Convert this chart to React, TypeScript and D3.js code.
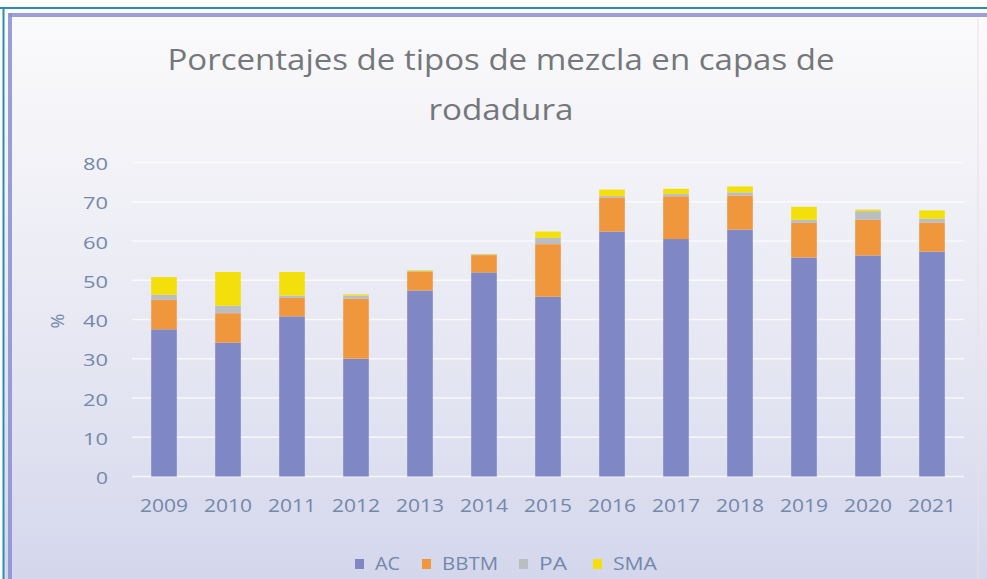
import React from "react";
import * as d3 from "d3";

const years = ["2009","2010","2011","2012","2013","2014","2015","2016","2017","2018","2019","2020","2021"];
const seriesNames = ["AC", "BBTM", "PA", "SMA"];
const acValues = [37.5, 34.1, 40.8, 30.0, 47.4, 52.0, 45.8, 62.4, 60.5, 62.9, 55.8, 56.3, 57.3];
const bbtmValues = [7.5, 7.5, 4.7, 15.3, 4.8, 4.4, 13.4, 8.7, 10.9, 8.7, 8.8, 9.1, 7.4];
const paValues = [1.3, 1.9, 0.6, 0.8, 0.2, 0.2, 1.6, 0.4, 0.6, 0.8, 0.8, 2.2, 1.0];
const smaValues = [4.5, 8.6, 6.0, 0.3, 0.2, 0.1, 1.6, 1.6, 1.3, 1.5, 3.3, 0.4, 2.1];
const yTicks = [0, 10, 20, 30, 40, 50, 60, 70, 80];
const colors = ["#7f87c5", "#f0973e", "#babdc1", "#f3df0a"];
const titleLines = ["Porcentajes de tipos de mezcla en capas de", "rodadura"];

const W = 987, H = 579;
const M = { left: 132, right: 964, top: 162.5, bottom: 476.5 };

export default function App() {
  const rows = years.map((y, i) => ({
    year: y, AC: acValues[i], BBTM: bbtmValues[i], PA: paValues[i], SMA: smaValues[i],
  }));
  const stack = d3.stack<any>().keys(seriesNames)(rows);
  const x = d3.scaleBand().domain(years).range([M.left, M.right]).paddingInner(0.6).paddingOuter(0.3);
  const y = d3.scaleLinear().domain([0, 80]).range([M.bottom, M.top]);
  const font = "'Open Sans', sans-serif";
  const tickColor = "#7388aa";
  const legendX = [355, 422, 519, 593];
  const legendW = [25, 56, 28, 44];
  const titleW = [667, 145];

  return (
    <svg width={W} height={H} style={{ position: "absolute", left: 0, top: 0, display: "block" }}>
      <defs>
        <linearGradient id="bg" x1="0" y1="0" x2="0" y2="1">
          <stop offset="0" stopColor="#fbfbfc" />
          <stop offset="0.3" stopColor="#f1f1f7" />
          <stop offset="0.7" stopColor="#e2e3f1" />
          <stop offset="1" stopColor="#d3d6ec" />
        </linearGradient>
      </defs>
      <rect x={0} y={0} width={W} height={H} fill="#ffffff" />
      <rect x={4} y={9} width={W} height={H} fill="url(#bg)" />
      <line x1={0} x2={W} y1={8} y2={8} stroke="#2a8fae" strokeWidth={2} />
      <line x1={3.5} x2={3.5} y1={8} y2={H} stroke="#2a8fae" strokeWidth={2} />
      <line x1={9} x2={W} y1={15} y2={15} stroke="#8b8fcf" strokeWidth={4} opacity={0.85} />
      <line x1={10} x2={10} y1={13} y2={H} stroke="#8b8fcf" strokeWidth={4} opacity={0.85} />
      <line x1={978} x2={978} y1={18} y2={H} stroke="#f2dde6" strokeWidth={1} />

      {titleLines.map((t, i) => (
        <text key={i} x={501 - titleW[i] / 2} y={i === 0 ? 70 : 120} textLength={titleW[i]} lengthAdjust="spacingAndGlyphs"
          fontFamily={font} fontSize={29.5} fill="#74777b">
          {t}
        </text>
      ))}

      {yTicks.map((t) => (
        <g key={t}>
          <line x1={M.left} x2={M.right} y1={y(t)} y2={y(t)} stroke="#ffffff" strokeWidth={1.5} opacity={0.75} />
          <text x={108 - (t === 0 ? 12 : 25)} y={y(t) + 1.5} dy="0.36em" textLength={t === 0 ? 12 : 25} lengthAdjust="spacingAndGlyphs"
            fontFamily={font} fontSize={17} fill={tickColor}>
            {t}
          </text>
        </g>
      ))}
      <text transform={`translate(64,321) rotate(-90)`} textAnchor="middle" fontFamily={font} fontSize={18} fill={tickColor}>
        %
      </text>

      {stack.map((s, si) => (
        <g key={s.key} fill={colors[si]}>
          {s.map((d: any, i: number) => (
            <rect key={i} x={x(years[i])} width={x.bandwidth()} y={y(d[1])} height={Math.max(0, y(d[0]) - y(d[1]))} />
          ))}
        </g>
      ))}

      {years.map((yr) => (
        <text key={yr} x={(x(yr) as number) + x.bandwidth() / 2 - 24} y={506} dy="0.36em" textLength={48} lengthAdjust="spacingAndGlyphs"
          fontFamily={font} fontSize={17.5} fill={tickColor}>
          {yr}
        </text>
      ))}

      {seriesNames.map((n, i) => (
        <g key={n}>
          <rect x={legendX[i]} y={559} width={9} height={10} fill={colors[i]} />
          <text x={legendX[i] + 20} y={564} dy="0.36em" textLength={legendW[i]} lengthAdjust="spacingAndGlyphs"
            fontFamily={font} fontSize={18} fill={tickColor}>
            {n}
          </text>
        </g>
      ))}
    </svg>
  );
}
